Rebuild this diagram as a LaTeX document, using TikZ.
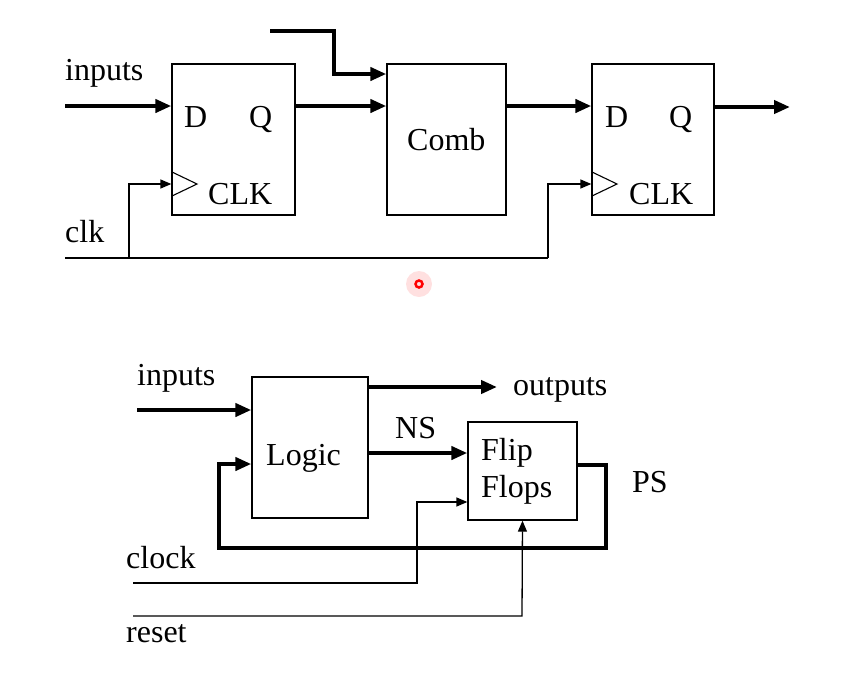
\documentclass[tikz,border=0pt]{standalone}
\usepackage{fontspec}
\setmainfont{Liberation Serif}
\usetikzlibrary{arrows.meta}
\begin{document}
\begin{tikzpicture}[x=1pt,y=-1pt,
  box/.style={draw,line width=1.3pt,inner sep=0pt,minimum width=#1},
  lbl/.style={anchor=base west,inner sep=0pt,font=\fontsize{32}{36}\selectfont},
  bus/.style={line width=4pt,-{Triangle[length=16pt,width=13pt]}},
  wire/.style={line width=1.3pt,-{Triangle[length=11pt,width=9pt]}}]
\useasboundingbox (0,0) rectangle (862,694);
% ---------- top ----------
\node[box=123pt,minimum height=151pt] (ff1) at (233.5,139.5) {};
\node[box=119pt,minimum height=151pt] (comb) at (446.5,139.5) {};
\node[box=122pt,minimum height=151pt] (ff2) at (653,139.5) {};
\node[lbl] (tin) at (65,80) {inputs};
\node[lbl] (tclk) at (65,242) {clk};
\node[lbl] (d1) at (184,127) {D};
\node[lbl] (q1) at (249,127) {Q};
\node[lbl] (c1) at (208,204) {CLK};
\node[lbl] (tcomb) at (407,150) {Comb};
\node[lbl] (d2) at (605,127) {D};
\node[lbl] (q2) at (669,127) {Q};
\node[lbl] (c2) at (629,204) {CLK};
\draw[line width=1.1pt] (172,172) -- (197,184) -- (172,196);
\draw[line width=1.1pt] (592,172) -- (617,184) -- (592,196);
\coordinate (in1) at (65,106);
\coordinate (top1) at (270,31);
\coordinate (out1) at (790,107);
\coordinate (clk0) at (65,258);
\coordinate (clkb) at (129,258);
\coordinate (clke) at (548,258);
\draw[bus] (in1) -- (in1 -| ff1.west);
\draw[bus] (ff1.east |- in1) -- (comb.west |- in1);
\draw[bus] (top1) -- (334,31) -- (334,74) -- (comb.west |- 0,74);
\draw[bus] (comb.east |- in1) -- (ff2.west |- in1);
\draw[bus] (ff2.east |- out1) -- (out1);
\draw[line width=1.3pt] (clk0) -- (clke);
\draw[wire] (clkb) -- (129,184) -- (ff1.west |- 0,184);
\draw[wire] (clke) -- (548,184) -- (ff2.west |- 0,184);
% laser dot
\fill[red!20,opacity=0.6] (419,284) circle (13);
\draw[red,line width=2.5pt] (419,284) circle (3.5);
% ---------- bottom ----------
\node[box=116pt,minimum height=141pt] (logic) at (310,447.5) {};
\node[box=109pt,minimum height=98pt] (ffs) at (522.5,471) {};
\node[lbl] (bin) at (137,385) {inputs};
\node[lbl] (tlogic) at (266,465) {Logic};
\node[lbl] (tns) at (395,438) {NS};
\node[lbl] (tout) at (513,395) {outputs};
\node[lbl] (tflip) at (481,460) {Flip};
\node[lbl] (tflops) at (481,497) {Flops};
\node[lbl] (tps) at (632,492) {PS};
\node[lbl] (tclock) at (126,568) {clock};
\node[lbl] (treset) at (126,642) {reset};
\coordinate (bin0) at (137,410);
\coordinate (bout) at (497,387);
\coordinate (clock0) at (133,583);
\coordinate (reset0) at (133,616);
\draw[bus] (bin0) -- (bin0 -| logic.west);
\draw[bus] (logic.east |- bout) -- (bout);
\draw[bus] (logic.east |- 0,453) -- (ffs.west |- 0,453);
\draw[bus] (ffs.east |- 0,465) -- (606,465) -- (606,548) -- (219,548) -- (219,464) -- (logic.west |- 0,464);
\draw[wire] (clock0) -- (417,583) -- (417,502) -- (ffs.west |- 0,502);
\draw[wire] (reset0) -- (522,616) -- (ffs.south);
\end{tikzpicture}
\end{document}
